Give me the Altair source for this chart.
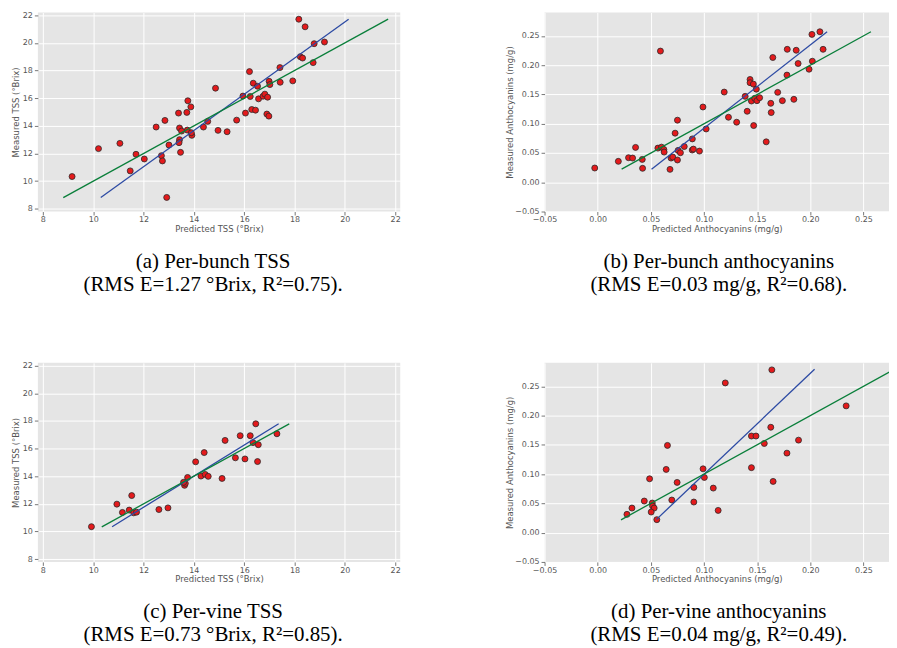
import altair as alt
import pandas as pd

# ---------------- data ----------------
# (a) per-bunch TSS
a_pred = [9.16, 10.21, 11.06, 11.47, 11.70, 12.03, 12.50, 12.71, 12.75, 12.85, 12.92, 13.01,
          13.39, 13.43, 13.43, 13.41, 13.47, 13.51, 13.72, 13.76, 13.74, 13.88, 13.92, 13.90,
          14.38, 14.55, 14.86, 14.96,
          18.17, 18.42, 18.78, 19.19, 18.23, 18.32, 18.74, 17.42, 16.21, 16.36, 16.53, 16.99,
          17.02, 17.43, 17.93, 16.24, 16.57, 16.75, 16.82, 16.93, 16.05, 16.30, 16.45, 16.90,
          16.98, 15.70, 15.32, 15.95]
a_meas = [10.33, 12.35, 12.73, 10.74, 11.94, 11.60, 13.91, 11.84, 11.46, 14.39, 8.82, 12.61,
          14.92, 13.84, 13.00, 12.78, 12.08, 13.62, 14.97, 15.81, 13.69, 15.37, 13.31, 13.50,
          13.91, 14.32, 16.72, 13.67,
          21.71, 21.16, 19.94, 20.06, 19.00, 18.90, 18.57, 18.21, 17.92, 17.08, 16.86, 17.22,
          16.98, 17.15, 17.25, 16.12, 15.95, 16.14, 16.29, 16.07, 14.92, 15.18, 15.13, 14.85,
          14.70, 14.41, 13.57, 16.15]
a_fit_x = [10.30, 20.15]
a_fit_y = [8.82, 21.71]
a_ideal = [8.81, 21.72]

# (b) per-bunch anthocyanins
b_pred = [-0.0028, 0.0194, 0.029, 0.0328, 0.0356, 0.0419, 0.0422, 0.0566, 0.060, 0.0622,
          0.0625, 0.059, 0.075, 0.0728, 0.0756, 0.0778, 0.069, 0.0706, 0.075, 0.068,
          0.0814, 0.089, 0.0889, 0.090, 0.0957, 0.099, 0.102, 0.119, 0.123, 0.1307,
          0.1387, 0.1406, 0.1433, 0.1433, 0.1464, 0.1492, 0.1446, 0.1477, 0.1498, 0.1523,
          0.1467, 0.1585, 0.1628, 0.1632, 0.1647, 0.1693, 0.1737, 0.1783, 0.178, 0.1845,
          0.1867, 0.1885, 0.1988, 0.2019, 0.2015, 0.209, 0.212]
b_meas = [0.0243, 0.0357, 0.0419, 0.0413, 0.0595, 0.039, 0.0238, 0.0583, 0.060, 0.056,
          0.0515, 0.224, 0.106, 0.0838, 0.0544, 0.0504, 0.0413, 0.043, 0.038, 0.022,
          0.061, 0.074, 0.055, 0.0566, 0.0532, 0.1285, 0.091, 0.154, 0.111, 0.1025,
          0.1467, 0.1212, 0.1755, 0.170, 0.1676, 0.159, 0.1387, 0.1433, 0.1393, 0.1444,
          0.0968, 0.069, 0.1348, 0.119, 0.213, 0.1535, 0.1393, 0.227, 0.183, 0.1416,
          0.2254, 0.2027, 0.193, 0.2067, 0.2525, 0.257, 0.227]
b_fit_x = [0.0506, 0.2158]
b_fit_y = [0.022, 0.257]
b_ideal = [0.0225, 0.257]

# (c) per-vine TSS
c_pred = [9.93, 10.94, 11.16, 11.43, 11.53, 11.61, 11.72, 12.61, 12.97, 13.63, 13.66, 13.59,
          13.75, 14.07, 14.28, 14.41, 14.45, 14.57,
          15.12, 15.24, 15.65, 15.84, 16.03, 16.24, 16.35, 16.46, 16.56, 16.53, 17.30]
c_meas = [10.35, 11.98, 11.38, 11.55, 12.60, 11.35, 11.40, 11.59, 11.71, 13.34, 13.48, 13.56,
          13.91, 15.04, 14.01, 15.71, 14.13, 13.99,
          13.84, 16.59, 15.33, 16.93, 15.25, 16.93, 16.43, 17.79, 16.28, 15.06, 17.07]
c_fit_x = [10.75, 17.37]
c_fit_y = [10.35, 17.79]
c_ideal = [10.34, 17.79]

# (d) per-vine anthocyanins
d_pred = [0.0275, 0.0322, 0.0438, 0.0488, 0.0513, 0.0516, 0.0531, 0.0503, 0.0556, 0.0644,
          0.0656, 0.0697, 0.0747,
          0.1638, 0.120, 0.2337, 0.1628, 0.1446, 0.1489, 0.1567, 0.1889, 0.178, 0.0991,
          0.1003, 0.1446, 0.165, 0.0904, 0.1087, 0.0904, 0.1133]
d_meas = [0.03125, 0.042, 0.054, 0.092, 0.0506, 0.0455, 0.042, 0.0352, 0.0222, 0.108,
          0.149, 0.0557, 0.0858,
          0.278, 0.2557, 0.2165, 0.180, 0.165, 0.165, 0.1523, 0.158, 0.1358, 0.109,
          0.0943, 0.111, 0.0875, 0.0773, 0.0761, 0.0523, 0.038]
d_fit_x = [0.0553, 0.204]
d_fit_y = [0.0227, 0.279]
d_ideal = [0.0219, 0.278]

tss_ticks = [8, 10, 12, 14, 16, 18, 20, 22]
ant_ticks = [-0.05, 0.0, 0.05, 0.10, 0.15, 0.20, 0.25]
tss_domain = [7.8, 22.2]
ant_xdomain = [-0.05, 0.274]
ant_ydomain = [-0.05, 0.29]

cap_a = ["(a) Per-bunch TSS", "(RMS E=1.27 °Brix, R²=0.75)."]
cap_b = ["(b) Per-bunch anthocyanins", "(RMS E=0.03 mg/g, R²=0.68)."]
cap_c = ["(c) Per-vine TSS", "(RMS E=0.73 °Brix, R²=0.85)."]
cap_d = ["(d) Per-vine anthocyanins", "(RMS E=0.04 mg/g, R²=0.49)."]

BLUE = "#2c4aa3"
GREEN = "#0a7f3a"
RED = "#e41a1c"


def panel(pred, meas, fit_x, fit_y, ideal, xdom, ydom, ticks, fmt, xtitle, ytitle,
          caption, w, h, dx, ytp):
    pts = pd.DataFrame({"pred": pred, "meas": meas})
    fit = pd.DataFrame({"pred": fit_x, "meas": fit_y})
    idl = pd.DataFrame({"pred": ideal, "meas": ideal})
    xs = alt.Scale(domain=xdom, nice=False, zero=False)
    ys = alt.Scale(domain=ydom, nice=False, zero=False)
    xax = alt.Axis(values=ticks, format=fmt, title=xtitle)
    yax = alt.Axis(values=ticks, format=fmt, title=ytitle, titlePadding=ytp)
    X = alt.X("pred:Q", scale=xs, axis=xax)
    Y = alt.Y("meas:Q", scale=ys, axis=yax)
    p = alt.Chart(pts).mark_circle(size=36, color=RED, opacity=1, stroke="#2a2a2a",
                                   strokeWidth=0.8).encode(x=X, y=Y)
    lf = alt.Chart(fit).mark_line(color=BLUE, strokeWidth=1.3, clip=True).encode(x=X, y=Y)
    li = alt.Chart(idl).mark_line(color=GREEN, strokeWidth=1.3, clip=True).encode(x=X, y=Y)
    return alt.layer(p, lf, li).properties(
        width=w, height=h, title=alt.TitleParams(text=caption, dx=dx))


pa = panel(a_pred, a_meas, a_fit_x, a_fit_y, a_ideal, tss_domain, tss_domain, tss_ticks, "d",
           "Predicted TSS (°Brix)", "Measured TSS (°Brix)", cap_a, 364, 200, -6, 2)
pb = panel(b_pred, b_meas, b_fit_x, b_fit_y, b_ideal, ant_xdomain, ant_ydomain, ant_ticks, ".2f",
           "Predicted Anthocyanins (mg/g)", "Measured Anthocyanins (mg/g)", cap_b, 346, 200, 2, 0)
pc = panel(c_pred, c_meas, c_fit_x, c_fit_y, c_ideal, tss_domain, tss_domain, tss_ticks, "d",
           "Predicted TSS (°Brix)", "Measured TSS (°Brix)", cap_c, 364, 200, -6, 2)
pd_ = panel(d_pred, d_meas, d_fit_x, d_fit_y, d_ideal, ant_xdomain, ant_ydomain, ant_ticks, ".2f",
            "Predicted Anthocyanins (mg/g)", "Measured Anthocyanins (mg/g)", cap_d, 346, 200, 2, 0)

chart = alt.vconcat(
    alt.hconcat(pa, pb, spacing=104),
    alt.hconcat(pc, pd_, spacing=104),
    spacing=66,
).properties(
    padding={"left": 3, "top": 1, "right": 0, "bottom": 0}
).configure_view(
    fill="#E5E5E5", strokeWidth=0
).configure_axis(
    grid=True, gridColor="white", gridWidth=1, domain=False, labelFlush=False,
    tickColor="#555555", tickSize=3.5, tickWidth=0.8,
    labelColor="#555555", labelFont="DejaVu Sans", labelFontSize=8, labelPadding=2,
    titleColor="#555555", titleFont="DejaVu Sans", titleFontSize=8.5,
    titleFontWeight="normal", titlePadding=2,
).configure_axisX(
    labelPadding=1, titlePadding=0.5,
).configure_title(
    font="Liberation Serif", fontSize=21, fontWeight="normal", color="black",
    orient="bottom", anchor="middle", frame="group", offset=18, lineHeight=23,
)

chart.save("out.html", embed_options={"renderer": "svg", "actions": False})
